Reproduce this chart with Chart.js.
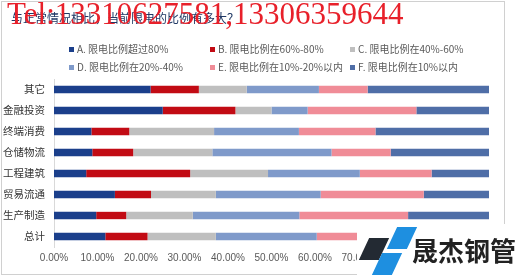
<!DOCTYPE html>
<html>
<head>
<meta charset="utf-8">
<script src="https://cdn.jsdelivr.net/npm/chart.js@4.4.1/dist/chart.umd.min.js"></script>
<style>
  body { margin: 0; background: #fff; }
  #wrap { position: relative; width: 515px; height: 277px; overflow: hidden; }
  #frame { position: absolute; left: 1px; top: 1px; width: 502px; height: 272px; border: 1px solid #d0d0d0; }
  #title { position: absolute; left: 11px; top: 9px; font: 12px "Noto Sans CJK SC", sans-serif; color: #1f3864; white-space: nowrap; }
  #legend { position: absolute; left: 0; top: 0; font: 10px "Noto Sans CJK SC", sans-serif; color: #595959; }
  .item { position: absolute; white-space: nowrap; line-height: 12px; }
  .box { display: inline-block; width: 5px; height: 5px; margin-right: 3px; vertical-align: 1px; }
  #mark { position: absolute; left: 7px; top: -1px; font: 31px "Liberation Serif", serif; color: #e8202a; line-height: 30px; white-space: nowrap; }
  #logo { position: absolute; left: 357px; top: 224px; width: 158px; height: 53px; background: #fff; }
  .para { position: absolute; width: 20px; height: 22px; transform: skewX(-25deg); }
  #logotext { position: absolute; left: 55px; top: 11px; font: bold 26px "Noto Sans CJK SC", sans-serif; color: #222; line-height: 30px; white-space: nowrap; }
</style>
</head>
<body>
<div id="wrap">
  <div id="frame"></div>
  <canvas id="chartLimit" width="515" height="277"></canvas>
  <div id="title">与正常情况相比，当前限电的比例有多大？</div>
  <div id="legend"></div>
  <div id="logo">
    <div class="para" style="left:7px;top:14px;background:#232a33;"></div>
    <div class="para" style="left:35px;top:3px;background:#1e8fe0;"></div>
    <div class="para" style="left:20px;top:29px;background:#1e8fe0;"></div>
    <div id="logotext">晟杰钢管</div>
  </div>
  <div id="mark">Tel:13310627581,13306359644</div>
</div>
<script>
var categories = ["其它", "金融投资", "终端消费", "仓储物流", "工程建筑", "贸易流通", "生产制造", "总计"];
var seriesNames = [
    "A. 限电比例超过80%",
    "B. 限电比例在60%-80%",
    "C. 限电比例在40%-60%",
    "D. 限电比例在20%-40%",
    "E. 限电比例在10%-20%以内",
    "F. 限电比例在10%以内"
];
var seriesA = [22.2, 25.0, 8.6, 8.8, 7.4, 14.0, 9.7, 11.8];
var seriesB = [11.1, 16.7, 8.7, 9.4, 23.9, 8.3, 6.9, 9.7];
var seriesC = [11.0, 8.3, 19.5, 18.2, 17.9, 14.9, 15.3, 15.7];
var seriesD = [16.6, 8.3, 19.5, 27.4, 21.1, 24.1, 24.5, 23.2];
var seriesE = [11.2, 25.0, 17.6, 13.6, 16.5, 23.7, 25.0, 19.5];
var seriesF = [27.9, 16.7, 26.1, 22.6, 13.2, 15.0, 18.6, 20.1];
var tickLabels = [0, 10, 20, 30, 40, 50, 60, 70, 80, 90, 100];

var colors = ["#1b3f8b", "#c20b14", "#bfbfbf", "#7f9aca", "#f08c97", "#4f6ea7"];
var allSeries = [seriesA, seriesB, seriesC, seriesD, seriesE, seriesF];

var datasets = allSeries.map(function(values, i) {
    return {
        label: seriesNames[i],
        data: values,
        backgroundColor: colors[i],
        borderWidth: 0,
        categoryPercentage: 1,
        barPercentage: 0.35
    };
});

var ctx = document.querySelector('#chartLimit').getContext('2d');
var chart = new Chart(ctx, {
    type: 'bar',
    data: { labels: categories, datasets: datasets },
    options: {
        indexAxis: 'y',
        responsive: false,
        animation: false,
        layout: { padding: { left: 0, right: 26, top: 79, bottom: 8 } },
        plugins: { legend: { display: false }, tooltip: { enabled: false } },
        scales: {
            x: {
                stacked: true,
                min: 0,
                max: 100,
                afterBuildTicks: function(scale) {
                    scale.ticks = tickLabels.map(function(v) { return { value: v }; });
                },
                grid: { display: false, drawTicks: false },
                border: { display: false },
                ticks: {
                    padding: 5,
                    autoSkip: false,
                    maxRotation: 0,
                    minRotation: 0,
                    color: '#595959',
                    font: { family: 'Liberation Sans', size: 10 },
                    callback: function(v) { return v.toFixed(2) + '%'; }
                }
            },
            y: {
                stacked: true,
                afterFit: function(scale) { scale.width = 54; },
                grid: { display: false, drawTicks: false },
                border: { display: true, color: '#d9d9d9' },
                ticks: {
                    padding: 9,
                    color: '#333',
                    font: { family: 'Noto Sans CJK SC', size: 10.5 }
                }
            }
        }
    }
});

// legend in three columns, two rows
var legendPos = [[69, 43], [210, 43], [350, 43], [69, 61], [210, 61], [350, 61]];
var legend = document.getElementById('legend');
seriesNames.forEach(function(name, i) {
    var div = document.createElement('div');
    div.className = 'item';
    div.style.left = legendPos[i][0] + 'px';
    div.style.top = legendPos[i][1] + 'px';
    div.innerHTML = '<span class="box" style="background:' + colors[i] + '"></span>' + name;
    legend.appendChild(div);
});
</script>
</body>
</html>
